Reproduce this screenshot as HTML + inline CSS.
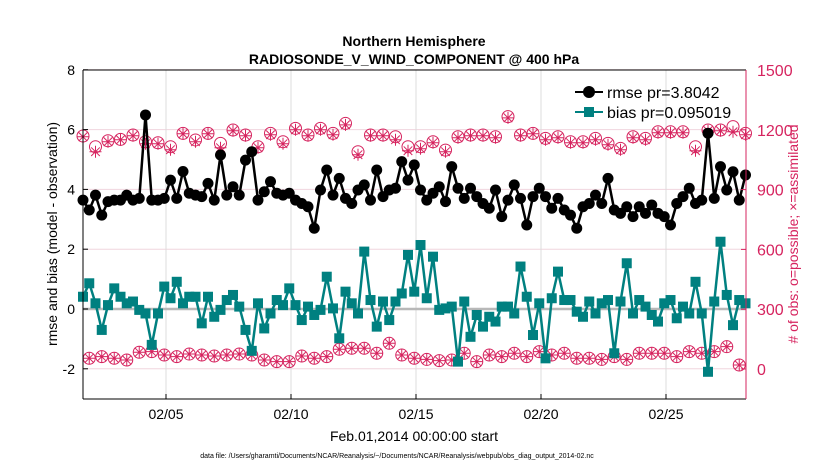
<!DOCTYPE html>
<html><head><meta charset="utf-8"><style>
html,body{margin:0;padding:0;background:#fff;}
svg{display:block;font-family:"Liberation Sans",Arial,sans-serif;}
</style></head><body>
<svg id="chart" width="830" height="470" viewBox="0 0 830 470" xmlns="http://www.w3.org/2000/svg">
<rect x="0" y="0" width="830" height="470" fill="#fff"/>
<g id="grid"></g>
<g id="series"></g>
<g id="axes"></g>
<text x="414" y="46" text-anchor="middle" font-size="14" font-weight="bold">Northern Hemisphere</text>
<text x="414" y="64" text-anchor="middle" font-size="14" font-weight="bold">RADIOSONDE_V_WIND_COMPONENT @ 400 hPa</text>
<text transform="translate(57,234) rotate(-90)" text-anchor="middle" font-size="14">rmse and bias (model - observation)</text>
<text transform="translate(798,234) rotate(-90)" text-anchor="middle" font-size="14" fill="#d6245f"># of obs: o=possible; ×=assimilated</text>
<text x="414" y="441" text-anchor="middle" font-size="14">Feb.01,2014 00:00:00 start</text>
<text x="397" y="458" text-anchor="middle" font-size="7">data file: /Users/gharamti/Documents/NCAR/Reanalysis/~/Documents/NCAR/Reanalysis/webpub/obs_diag_output_2014-02.nc</text>
<g>
<line x1="575" y1="92" x2="603" y2="92" stroke="#000" stroke-width="2"/>
<circle cx="589" cy="92" r="6" fill="#000"/>
<text x="607" y="98" font-size="16">rmse pr=3.8042</text>
<line x1="575" y1="112" x2="603" y2="112" stroke="#008080" stroke-width="2"/>
<rect x="584" y="107" width="10" height="10" fill="#008080"/>
<text x="607" y="118" font-size="16">bias pr=0.095019</text>
</g>
</svg>
<script>
var rmse=[3.64,3.31,3.81,3.14,3.59,3.64,3.64,3.81,3.64,3.70,6.49,3.64,3.64,3.70,4.31,3.70,4.60,3.87,3.81,3.76,4.20,3.64,5.15,3.81,4.09,3.81,4.98,
5.26,3.64,3.92,4.26,3.87,3.81,3.87,3.64,3.53,3.42,2.70,3.98,4.65,3.81,4.37,3.70,3.53,3.98,4.15,3.64,4.65,3.76,3.98,4.04,4.93,
4.31,4.82,3.98,3.64,3.87,4.09,3.59,4.76,4.04,3.70,4.04,3.76,3.53,3.37,3.98,3.09,3.64,4.15,3.70,2.81,3.76,4.04,3.76,3.37,3.70,3.31,3.14,2.70,3.42,
3.53,3.81,3.53,4.37,3.31,3.20,3.42,3.09,3.42,3.20,3.48,3.20,3.09,2.81,3.53,3.76,4.04,3.53,3.64,5.88,3.70,4.76,3.98,4.59,3.64,4.48];
var bias=[0.41,0.86,0.19,-0.70,0.13,0.69,0.41,0.19,0.25,-0.03,-0.15,-1.2,-0.15,0.75,0.36,0.91,0.19,0.41,0.41,-0.48,0.41,-0.26,-0.03,0.30,0.47,0.08,-0.70,
-1.4,0.19,-0.65,-0.15,0.30,0.13,0.69,0.13,-0.37,0.08,-0.2,-0.03,1.08,0.02,-0.98,0.58,0.19,-0.15,1.92,0.30,-0.59,0.25,-0.37,0.25,0.52,
1.81,0.58,2.14,0.36,1.75,-0.03,0.02,0.08,-1.76,0.25,-0.93,-0.2,-0.59,-0.26,-0.42,0.08,0.08,-0.15,1.42,0.41,-0.87,0.19,-1.65,0.36,1.25,0.30,0.30,-0.09,
-0.26,0.25,-0.15,0.19,0.30,-1.48,0.25,1.53,-0.15,0.30,0.08,-0.2,-0.42,0.19,0.30,-0.31,0.08,-0.15,0.91,-0.15,-2.10,0.25,2.25,0.47,-0.54,0.30,0.19];
var possible=[1169,54,1115,62,1145,54,1152,45,1174,84,1140,87,1135,70,1115,62,1182,75,1149,70,1182,65,1132,70,1199,75,1174,70,
1115,45,1182,37,1140,37,1207,65,1174,54,1207,62,1182,99,1232,104,1090,104,1174,79,1174,129,1165,70,1115,54,
1115,48,1140,42,1098,45,1165,79,1174,37,1174,70,1165,62,1266,79,1174,62,1182,87,1157,70,1165,79,1140,54,
1140,54,1157,48,1132,62,1107,48,1165,79,1157,79,1190,79,1190,62,1190,87,1115,79,1199,87,1199,112,1216,20,1182];
var assimilated=[1165,54,1090,62,1140,54,1150,45,1170,84,1130,87,1130,70,1100,62,1180,75,1140,70,1180,65,1110,70,1195,75,1170,70,
1110,45,1175,37,1130,37,1200,65,1170,54,1200,62,1175,99,1225,104,1075,104,1170,79,1170,129,1150,70,1095,54,
1105,48,1135,42,1090,45,1160,79,1170,37,1170,70,1160,62,1260,79,1170,62,1180,87,1150,70,1160,79,1135,54,
1135,54,1150,48,1125,62,1100,48,1160,79,1150,79,1185,79,1185,62,1185,87,1095,79,1195,87,1195,112,1190,20,1175];
var startDay=1.68, stepDay=0.25;
var leftTicks=[-2,0,2,4,6,8];
var rightTicks=[0,300,600,900,1200,1500];
var dateTicks=[5,10,15,20,25];
var dateLabels=["02/05","02/10","02/15","02/20","02/25"];

var X0=83,X1=746,Y0=70,Y1=399;
function xs(d){return 66+(d-1)*25;}
function yl(v){return 309-v*29.9;}
function yr(c){return 369-c*(59.8/300);}
var NS="http://www.w3.org/2000/svg";
function mk(tag,attrs,parent){var e=document.createElementNS(NS,tag);for(var k in attrs)e.setAttribute(k,attrs[k]);parent.appendChild(e);return e;}
var grid=document.getElementById('grid'),ser=document.getElementById('series'),axes=document.getElementById('axes');
var PINK="#d6245f";
leftTicks.forEach(function(t){
  var g=mk('line',{x1:X0,x2:X1,y1:yl(t),y2:yl(t),stroke:'#f0d5de','stroke-width':1},grid);
  
  
  var tk=mk('line',{x1:X0,x2:X0+5,y1:yl(t),y2:yl(t),stroke:'#000'},axes);
  
  
  var tx=mk('text',{x:X0-8,y:yl(t)+5,'text-anchor':'end','font-size':14},axes);
  tx.textContent=t;
  
  
});
rightTicks.forEach(function(t){
  var tk=mk('line',{x1:X1-5,x2:X1,y1:yr(t),y2:yr(t),stroke:PINK},axes);
  
  
  var tx=mk('text',{x:X1+11,y:yr(t)+6,'font-size':16,fill:PINK},axes);
  tx.textContent=t;
  
  
});
dateTicks.forEach(function(d,i){
  var g=mk('line',{x1:xs(d),x2:xs(d),y1:Y0,y2:Y1,stroke:'#dcdcdc'},grid);
  
  
  var tk=mk('line',{x1:xs(d),x2:xs(d),y1:Y1,y2:Y1-5,stroke:'#000'},axes);
  
  
  var tx=mk('text',{x:xs(d),y:Y1+20,'text-anchor':'middle','font-size':14},axes);
  tx.textContent=dateLabels[i];
  
  
});
var zl=mk('line',{x1:X0,x2:X1,y1:yl(0),y2:yl(0),stroke:'#b8b8b8','stroke-width':2.5},grid);


function dayOf(i){return startDay+i*stepDay;}
// counts
possible.forEach(function(c,i){
  var c1=mk('circle',{cx:xs(dayOf(i)),cy:yr(c),r:6,fill:'none',stroke:PINK,'stroke-width':1},ser);
  
  
});
assimilated.forEach(function(c,i){
  var x=xs(dayOf(i)),y=yr(c),s=6,d='';
  d+='M'+(x-s)+' '+y+'H'+(x+s)+'M'+x+' '+(y-s)+'V'+(y+s);
  d+='M'+(x-4.3)+' '+(y-4.3)+'L'+(x+4.3)+' '+(y+4.3)+'M'+(x-4.3)+' '+(y+4.3)+'L'+(x+4.3)+' '+(y-4.3);
  var p=mk('path',{d:d,stroke:PINK,'stroke-width':1,fill:'none'},ser);
  
  
});
// bias
var bp=bias.map(function(v,i){return xs(dayOf(i)).toFixed(1)+','+yl(v).toFixed(1);}).join(' ');
var bl=mk('polyline',{points:bp,fill:'none',stroke:'#008080','stroke-width':2.5},ser);


bias.forEach(function(v,i){
  var r=mk('rect',{x:xs(dayOf(i))-5,y:yl(v)-5,width:10,height:10,fill:'#008080'},ser);
  
  
});
// rmse
var rp=rmse.map(function(v,i){return xs(dayOf(i)).toFixed(1)+','+yl(v).toFixed(1);}).join(' ');
var rl=mk('polyline',{points:rp,fill:'none',stroke:'#000','stroke-width':2.5},ser);


rmse.forEach(function(v,i){
  var c=mk('circle',{cx:xs(dayOf(i)),cy:yl(v),r:5.5,fill:'#000'},ser);
  
  
});
// axis lines
var a1=mk('line',{x1:X0,x2:X0,y1:Y0,y2:Y1,stroke:'#000','stroke-width':1},axes);


var a2=mk('line',{x1:X0,x2:X1,y1:Y1,y2:Y1,stroke:'#000','stroke-width':1},axes);


var a3=mk('line',{x1:X0,x2:X1,y1:Y0,y2:Y0,stroke:'#000','stroke-width':1},axes);


var a4=mk('line',{x1:X1,x2:X1,y1:Y0,y2:Y1,stroke:PINK,'stroke-width':1},axes);


</script>
</body></html>
